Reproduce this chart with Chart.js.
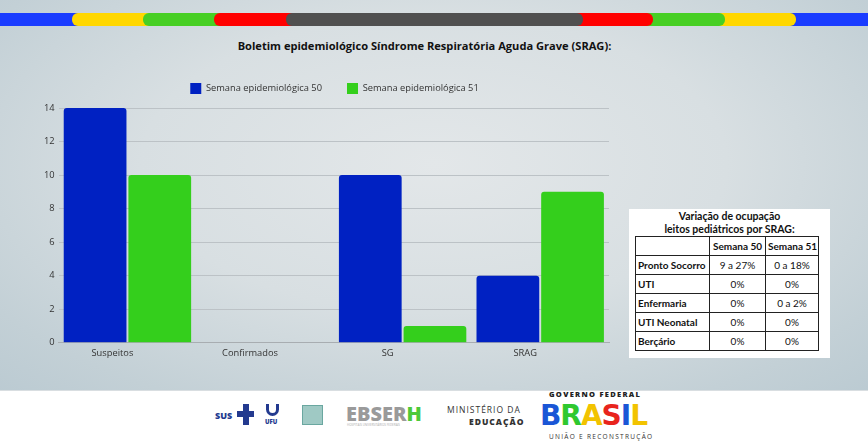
<!DOCTYPE html>
<html>
<head>
<meta charset="utf-8">
<script src="https://cdn.jsdelivr.net/npm/chart.js@4.4.1/dist/chart.umd.min.js"></script>
<style>
  html,body{margin:0;padding:0;}
  body{width:868px;height:443px;position:relative;overflow:hidden;background:#fff;font-family:"Open Sans",sans-serif;}
  #bg{position:absolute;left:0;top:0;width:868px;height:390px;
      background:radial-gradient(ellipse 75% 85% at 50% 42%, #e3e7e9 0%, #d8dfe2 45%, #c3d0d6 80%, #b9c9d1 100%);}
  #foot{position:absolute;left:0;top:390px;width:868px;height:53px;background:#fff;border-top:1px solid #d9dee1;}
  .strip{position:absolute;top:13px;height:13px;border-radius:6px;}
  #title{position:absolute;left:0;width:849px;top:38px;text-align:center;font-weight:700;font-size:11.1px;color:#111;}
  #cwrap{position:absolute;left:0;top:58px;width:666px;height:308px;}
  #tbox{position:absolute;left:629px;top:209px;width:201px;height:149px;background:#fff;}
  #tbox .tt{position:absolute;left:0;width:201px;top:1px;text-align:center;font-family:Lato,sans-serif;font-weight:700;font-size:10.5px;line-height:13px;color:#111;}
  #tbox table{position:absolute;left:6px;top:27px;border-collapse:collapse;table-layout:fixed;width:183px;font-family:Lato,sans-serif;font-size:10px;color:#111;}
  #tbox td{border:1px solid #222;height:18px;padding:0 2px;white-space:nowrap;overflow:hidden;}
  #tbox td.h{font-weight:700;text-align:left;}
  #tbox td.c{text-align:center;}
  .lg{position:absolute;font-family:"Open Sans",sans-serif;}
</style>
</head>
<body>
<div id="bg"></div>
<div class="strip" style="left:0;width:868px;border-radius:0;background:#1a3cff"></div>
<div class="strip" style="left:72px;width:724px;background:#ffd700"></div>
<div class="strip" style="left:143px;width:582px;background:#47cf24"></div>
<div class="strip" style="left:214px;width:439px;background:#ff0000"></div>
<div class="strip" style="left:286px;width:297px;background:#505050"></div>

<div id="title">Boletim epidemiológico Síndrome Respiratória Aguda Grave (SRAG):</div>
<div id="cwrap"><canvas id="c"></canvas></div>

<div id="tbox">
  <div class="tt">Variação de ocupação<br>leitos pediátricos por SRAG:</div>
  <table>
    <colgroup><col style="width:74px"><col style="width:56px"><col style="width:53px"></colgroup>
    <tr><td></td><td class="c h" style="text-align:center">Semana 50</td><td class="c h" style="text-align:center">Semana 51</td></tr>
    <tr><td class="h">Pronto Socorro</td><td class="c">9 a 27%</td><td class="c">0 a 18%</td></tr>
    <tr><td class="h">UTI</td><td class="c">0%</td><td class="c">0%</td></tr>
    <tr><td class="h">Enfermaria</td><td class="c">0%</td><td class="c">0 a 2%</td></tr>
    <tr><td class="h">UTI Neonatal</td><td class="c">0%</td><td class="c">0%</td></tr>
    <tr><td class="h">Berçário</td><td class="c">0%</td><td class="c">0%</td></tr>
  </table>
</div>

<div id="foot"></div>
<!-- footer logos (approximate) -->
<div class="lg" style="left:215px;top:409px;font-size:9px;font-weight:800;color:#233a8f;">SUS</div>
<div class="lg" style="left:237px;top:404px;width:17px;height:21px;">
  <div style="position:absolute;left:6px;top:0;width:6px;height:21px;background:#233a8f"></div>
  <div style="position:absolute;left:0;top:7px;width:17px;height:6px;background:#233a8f"></div>
</div>
<div class="lg" style="left:266px;top:404px;width:13px;height:12px;border:3px solid #233a8f;border-top:none;border-radius:0 0 8px 8px;box-sizing:border-box"></div>
<div class="lg" style="left:265px;top:418px;font-size:6px;font-weight:800;color:#233a8f;">UFU</div>
<div class="lg" style="left:302px;top:405px;width:21px;height:20px;background:#9fc9c4;border:1px solid #6aa7a0;box-sizing:border-box"></div>
<div class="lg" style="left:346px;top:400px;font-size:20px;font-weight:800;color:#9a9a9a;">EBSER<span style="color:#4cc93a">H</span></div>
<div class="lg" style="left:347px;top:423px;font-size:3px;color:#aaa;">HOSPITAIS UNIVERSITÁRIOS FEDERAIS</div>
<div class="lg" style="left:447px;top:404px;font-size:8.5px;letter-spacing:1px;color:#333;">MINISTÉRIO DA</div>
<div class="lg" style="left:469px;top:416px;font-size:8.5px;font-weight:800;letter-spacing:1px;color:#333;">EDUCAÇÃO</div>
<div class="lg" style="left:549px;top:389px;font-size:7.5px;font-weight:800;letter-spacing:1.3px;color:#222;">GOVERNO FEDERAL</div>
<div class="lg" style="left:540px;top:399px;font-size:28px;line-height:34px;font-weight:900;letter-spacing:-1px;font-family:'DejaVu Sans',sans-serif;">
  <span style="color:#1a56d6">B</span><span style="color:#2fc82f">R</span><span style="color:#f2c300">A</span><span style="color:#e8241d">S</span><span style="color:#1a56d6">I</span><span style="color:#f2c300">L</span>
</div>
<div class="lg" style="left:549px;top:432px;font-size:6.5px;letter-spacing:1.3px;color:#333;">UNIÃO E RECONSTRUÇÃO</div>

<script>
const categories = ["Suspeitos", "Confirmados", "SG", "SRAG"];
const semana50 = [14, 0, 10, 4];
const semana51 = [10, 0, 1, 9];
const seriesNames = ["Semana epidemiológica 50", "Semana epidemiológica 51"];
const yTicks = [0, 2, 4, 6, 8, 10, 12, 14];

const legendSpacer = {
  id: "legendSpacer",
  beforeInit(chart) {
    const lg = chart.legend;
    if (!lg) return;
    const orig = lg.fit;
    lg.fit = function () { orig.call(this); this.height += 4; };
  },
  afterLayout(chart) {
    const lg = chart.legend;
    if (!lg) return;
    lg.left += 10; lg.right += 10;
  }
};

new Chart(document.getElementById("c"), {
  type: "bar",
  data: {
    labels: categories,
    datasets: [
      {label: seriesNames[0], data: semana50, backgroundColor: "#0021c2", borderRadius: 3, borderSkipped: "bottom"},
      {label: seriesNames[1], data: semana51, backgroundColor: "#34cf1c", borderRadius: 3, borderSkipped: "bottom"}
    ]
  },
  plugins: [legendSpacer],
  options: {
    responsive: true,
    maintainAspectRatio: false,
    animation: false,
    layout: {padding: {left: 40, right: 57, top: 0, bottom: 2}},
    datasets: {bar: {categoryPercentage: 0.94, barPercentage: 0.97}},
    plugins: {
      legend: {
        position: "top",
        labels: {boxWidth: 11, boxHeight: 11, padding: 25, color: "#333",
                 font: {family: "Open Sans", size: 9.3}}
      },
      tooltip: {enabled: false}
    },
    scales: {
      x: {
        grid: {display: false, drawTicks: false},
        border: {display: true, color: "#a8adb1", width: 1},
        ticks: {color: "#333", font: {family: "Open Sans", size: 9.3}, padding: 5, labelOffset: -15}
      },
      y: {
        min: 0, max: 14,
        afterBuildTicks: (s) => { s.ticks = yTicks.map(v => ({value: v})); },
        grid: {color: "#bcc2c6", drawTicks: false},
        border: {display: false},
        ticks: {color: "#333", font: {family: "Open Sans", size: 9.3}, padding: 4}
      }
    }
  }
});
</script>
</body>
</html>
